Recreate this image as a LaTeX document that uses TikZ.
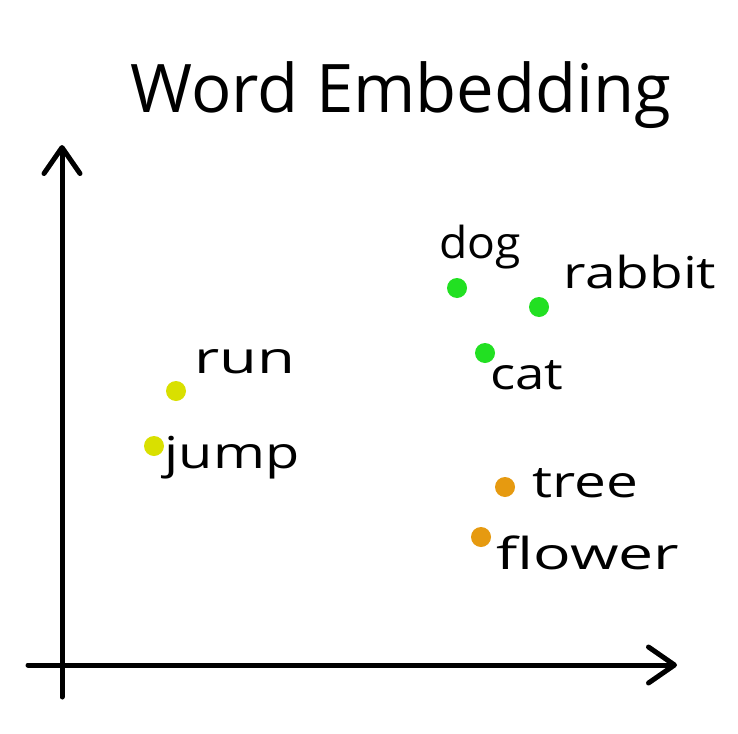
\documentclass[tikz,border=0pt]{standalone}
\usepackage{fontspec}
\usepackage{graphicx}
\setmainfont{Open Sans}
\usetikzlibrary{arrows.meta}
\definecolor{cgreen}{HTML}{22E022}
\definecolor{cyellow}{HTML}{D9E000}
\definecolor{corange}{HTML}{E69A10}
\newcommand\wsc[2]{\scalebox{#1}[1]{#2}}
\tikzset{
  axis/.style={line width=5pt, line cap=round, -{Straight Barb[length=26pt, width=36pt, line width=5pt, round]}},
  dot/.style={circle, inner sep=0pt, minimum size=20pt, fill=#1},
  word/.style={font=\fontsize{44}{48}\selectfont, inner sep=0pt, text=black},
}
\begin{document}
\begin{tikzpicture}[x=1pt,y=-1pt]
\useasboundingbox (0,0) rectangle (738,733);
\fill[white] (0,0) rectangle (738,733);
\node[font=\fontsize{67}{72}\selectfont, inner sep=0pt] (title) at (401,95) {Word Embedding};
\coordinate (yo) at (62,697);
\coordinate (yt) at (62,145);
\coordinate (xo) at (28,665);
\coordinate (xt) at (677,665);
\draw[axis] (yo) -- (yt);
\draw[axis] (xo) -- (xt);
\node[dot=cgreen] (pdog) at (457,288) {};
\node[dot=cgreen] (prabbit) at (539,307) {};
\node[dot=cgreen] (pcat) at (485,353) {};
\node[dot=cyellow] (prun) at (176,391) {};
\node[dot=cyellow] (pjump) at (154,446) {};
\node[dot=corange] (ptree) at (505,487) {};
\node[dot=corange] (pflower) at (481,537) {};
\node[word] (ldog) at (480,247) {\wsc{1.05}{dog}};
\node[word] (lrabbit) at (640,272) {\wsc{1.25}{rabbit}};
\node[word] (lcat) at (527,375) {\wsc{1.2}{cat}};
\node[word] (lrun) at (245,362) {\wsc{1.4}{run}};
\node[word] (ljump) at (232,458) {\wsc{1.27}{jump}};
\node[word] (ltree) at (585,483) {\wsc{1.29}{tree}};
\node[word] (lflower) at (588,553) {\wsc{1.42}{flower}};
\end{tikzpicture}
\end{document}
